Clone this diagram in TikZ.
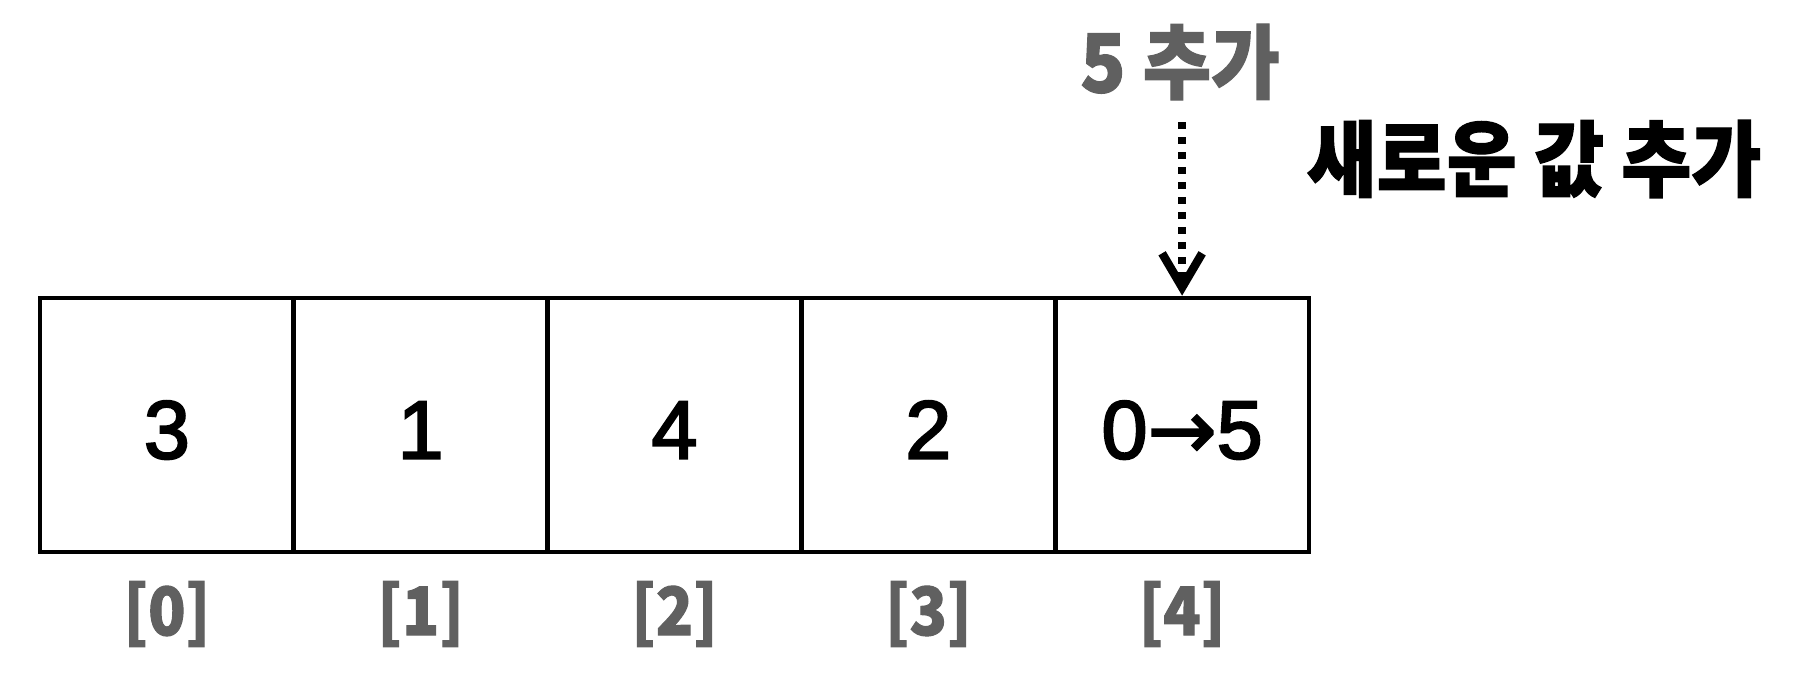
\documentclass[tikz,border=0pt]{standalone}
\usepackage{fontspec}
\setmainfont{Liberation Sans}[FakeBold=2.6]
\newfontfamily\kor{Noto Sans CJK KR}[FakeStretch=0.92, FakeBold=1.5]
\newfontfamily\arrowfont{DejaVu Sans}[FakeBold=2]
\usetikzlibrary{arrows.meta,positioning}
\definecolor{idxgray}{RGB}{96,96,96}
\tikzset{
  cell/.style={rectangle, draw=black, line width=1.3pt, minimum width=2.54cm, minimum height=2.54cm, inner sep=0pt, text height=0.67cm, text depth=0pt, font=\fontsize{23.5}{26}\selectfont},
  idx/.style={inner sep=0pt, text=idxgray, font=\kor\bfseries\fontsize{19}{21}\selectfont},
  addlabel/.style={inner sep=0pt, text=idxgray, font=\kor\bfseries\fontsize{23}{26}\selectfont},
  title/.style={inner sep=0pt, text=black, font=\kor\bfseries\fontsize{23.5}{27}\selectfont},
  droparrow/.style={-{Straight Barb[length=3.4mm, width=4mm]}, dash pattern=on 0.7mm off 0.8mm}
}

\begin{document}
\begin{tikzpicture}[x=0.01cm, y=-0.01cm]
  \useasboundingbox (0,0) rectangle (1800,678);
  \node[cell] (c0) at (166.9,425) {3};
  \node[cell] (c1) at (420.7,425) {1};
  \node[cell] (c2) at (674.5,425) {4};
  \node[cell] (c3) at (928.3,425) {2};
  \node[cell] (c4) at (1182.1,425) {0{\arrowfont →}5};
  \node[idx, below=2.6mm of c0] {[0]};
  \node[idx, below=2.6mm of c1] {[1]};
  \node[idx, below=2.6mm of c2] {[2]};
  \node[idx, below=2.6mm of c3] {[3]};
  \node[idx, below=2.6mm of c4] {[4]};
  \node[addlabel] (add) at (1180,62) {5 추가};
  \coordinate (drop) at (1182.1,122);
  \draw[droparrow, line width=2.4pt] (drop) -- (c4.north);
  \node[title] (newval) at (1534,159) {새로운 값 추가};
\end{tikzpicture}
\end{document}
